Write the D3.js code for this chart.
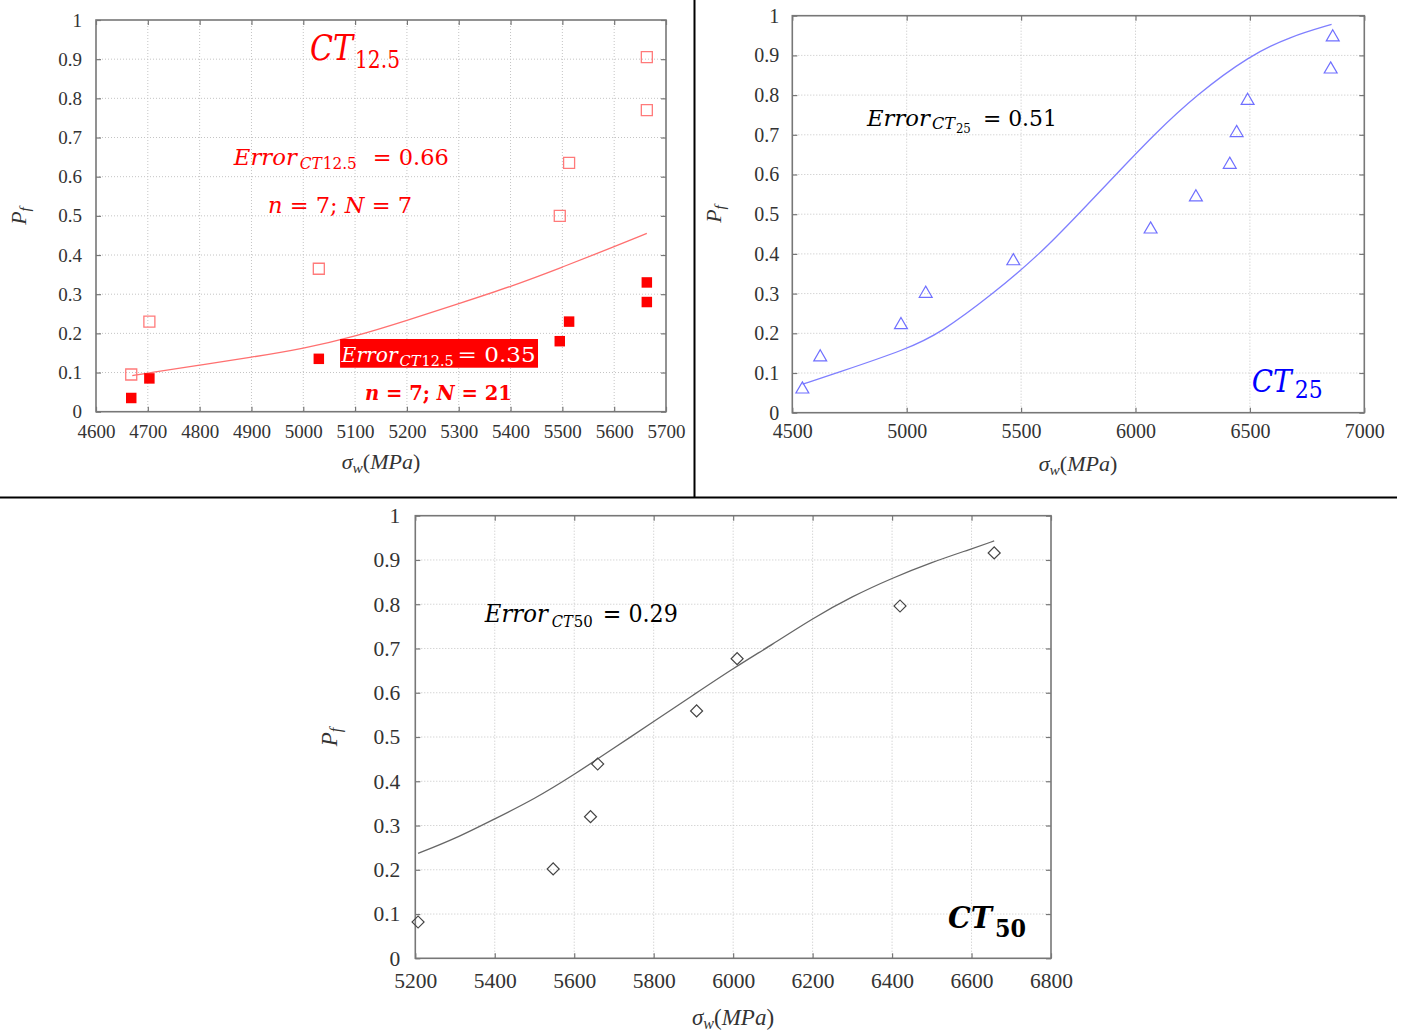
<!DOCTYPE html>
<html><head><meta charset="utf-8">
<script src="https://cdn.jsdelivr.net/npm/d3@7"></script>
<style>body{margin:0;background:#fff}svg{display:block}text{white-space:pre}</style>
</head><body>
<svg id="c" width="1401" height="1032"></svg>
<script>
// ---------- DATA ----------
const yTicks = [0,0.1,0.2,0.3,0.4,0.5,0.6,0.7,0.8,0.9,1];
const yTickLabels = ["0","0.1","0.2","0.3","0.4","0.5","0.6","0.7","0.8","0.9","1"];

// CT12.5
const ct12Ticks = [4600,4700,4800,4900,5000,5100,5200,5300,5400,5500,5600,5700];
const ct12X = [4668, 4703, 5030, 5495, 5513, 5663, 5663];
const ct12N7 = [0.095, 0.23, 0.365, 0.50, 0.635, 0.77, 0.905];
const ct12N21 = [0.035, 0.085, 0.135, 0.18, 0.23, 0.28, 0.33];
const ct12FitX = [4670, 4700, 4800, 4900, 5000, 5100, 5200, 5300, 5400, 5500, 5600, 5663];
const ct12FitY = [0.092, 0.099, 0.119, 0.139, 0.161, 0.192, 0.233, 0.276, 0.319, 0.369, 0.421, 0.455];

// CT25
const ct25Ticks = [4500,5000,5500,6000,6500,7000];
const ct25X = [4544, 4622, 4975, 5083, 5466, 6066, 6264, 6412, 6442, 6490, 6853, 6862];
const ct25Y = [0.059, 0.14, 0.221, 0.30, 0.382, 0.462, 0.543, 0.625, 0.705, 0.786, 0.865, 0.946];
const ct25FitX = [4545, 4694, 5000, 5146, 5379, 5583, 5750, 5915, 6080, 6265, 6500, 6675, 6857];
const ct25FitY = [0.072, 0.10, 0.16, 0.20, 0.30, 0.40, 0.50, 0.60, 0.70, 0.80, 0.90, 0.947, 0.978];

// CT50
const ct50Ticks = [5200,5400,5600,5800,6000,6200,6400,6600,6800];
const ct50X = [5207, 5547, 5641, 5659, 5908, 6010, 6420, 6657];
const ct50Y = [0.082, 0.202, 0.32, 0.439, 0.559, 0.677, 0.796, 0.916];
const ct50FitX = [5207, 5300, 5400, 5500, 5600, 5700, 5800, 5900, 6000, 6100, 6200, 6300, 6400, 6500, 6600, 6657];
const ct50FitY = [0.237, 0.27, 0.315, 0.36, 0.415, 0.475, 0.535, 0.595, 0.655, 0.71, 0.768, 0.818, 0.859, 0.895, 0.925, 0.943];

// ---------- DRAW ----------
const svg = d3.select("#c");
const MATH = "DejaVu Serif";
const TICKF = "Liberation Serif";

svg.append("line").attr("x1",694.5).attr("x2",694.5).attr("y1",0).attr("y2",497).attr("stroke","#000").attr("stroke-width",2);
svg.append("line").attr("x1",0).attr("x2",1397).attr("y1",497.5).attr("y2",497.5).attr("stroke","#000").attr("stroke-width",2);

function panel(c) {
  const x = d3.scaleLinear().domain(c.xd).range([c.L, c.R]);
  const y = d3.scaleLinear().domain([0,1]).range([c.B, c.T]);
  const g = svg.append("g");
  g.append("g").selectAll("line").data(c.xt.slice(1,-1)).join("line")
    .attr("x1",d=>x(d)).attr("x2",d=>x(d)).attr("y1",c.T).attr("y2",c.B)
    .attr("stroke","#c4c4c4").attr("stroke-width",1).attr("stroke-dasharray","1,2");
  g.append("g").selectAll("line").data(yTicks.slice(1,-1)).join("line")
    .attr("y1",d=>y(d)).attr("y2",d=>y(d)).attr("x1",c.L).attr("x2",c.R)
    .attr("stroke","#c4c4c4").attr("stroke-width",1).attr("stroke-dasharray","1,2");
  const style = (a) => {
    a.select(".domain").remove();
    a.selectAll(".tick line").attr("stroke","#777").attr("stroke-width",1.2);
    a.selectAll("text").attr("font-family",TICKF).attr("font-size",c.fs).attr("fill","#333");
  };
  g.append("g").attr("transform",`translate(0,${c.B})`)
    .call(d3.axisBottom(x).tickValues(c.xt).tickFormat(d3.format("d")).tickSize(-5).tickPadding(c.xpad)).call(style);
  g.append("g").attr("transform",`translate(0,${c.T})`)
    .call(d3.axisTop(x).tickValues(c.xt).tickFormat("").tickSize(-5)).call(style);
  g.append("g").attr("transform",`translate(${c.L},0)`)
    .call(d3.axisLeft(y).tickValues(yTicks).tickFormat((d,i)=>yTickLabels[i]).tickSize(-5).tickPadding(c.ypad)).call(style);
  g.append("g").attr("transform",`translate(${c.R},0)`)
    .call(d3.axisRight(y).tickValues(yTicks).tickFormat("").tickSize(-5)).call(style);
  g.append("rect").attr("x",c.L).attr("y",c.T).attr("width",c.R-c.L).attr("height",c.B-c.T)
    .attr("fill","none").attr("stroke","#777").attr("stroke-width",1.6);
  const xt = g.append("text").attr("x",c.xlx).attr("y",c.xly).attr("text-anchor","middle")
    .attr("font-family",TICKF).attr("font-size",c.lfs).attr("fill","#333");
  xt.append("tspan").attr("font-style","italic").text("σ");
  xt.append("tspan").attr("font-style","italic").attr("font-size",c.lfs*0.7).attr("dy",4).text("w");
  xt.append("tspan").attr("dy",-4).text("(");
  xt.append("tspan").attr("font-style","italic").text("MPa");
  xt.append("tspan").text(")");
  const yt = g.append("text").attr("transform",`translate(${c.ylx},${c.yly}) rotate(-90)`).attr("text-anchor","middle")
    .attr("font-family",TICKF).attr("font-size",c.lfs).attr("fill","#333");
  yt.append("tspan").attr("font-style","italic").text("P");
  yt.append("tspan").attr("font-style","italic").attr("font-size",c.lfs*0.7).attr("dy",4).text("f");
  return {x, y, g};
}

function mathText(g, px, py, parts, fill, weight) {
  parts.forEach(p => {
    const t = g.append("text").attr("x",px + p.dx).attr("y",py + (p.dy||0))
      .attr("font-family",MATH).attr("font-size",p.s).attr("fill",fill)
      .attr("font-weight",weight||"normal").attr("font-style",p.i?"italic":"normal")
      .attr("textLength",p.w).attr("lengthAdjust","spacingAndGlyphs");
    if (p.parts) p.parts.forEach(q => t.append("tspan").attr("font-style",q.i?"italic":"normal").text(q.t));
    else t.text(p.t);
  });
}

const line = (x,y) => d3.line().x(d=>x(d[0])).y(d=>y(d[1])).curve(d3.curveBasis);

// ---- Panel 1: CT12.5 ----
{
  const {x,y,g} = panel({L:96,T:20,R:666,B:411.7,xd:[4600,5700],xt:ct12Ticks,fs:19,xpad:13,ypad:14,
    lfs:22,xlx:381,xly:469,ylx:26,yly:216});
  g.append("path").datum(d3.zip(ct12FitX,ct12FitY)).attr("d",line(x,y))
    .attr("fill","none").attr("stroke","#ff7070").attr("stroke-width",1.3);
  const sq = d3.symbol().type(d3.symbolSquare);
  g.selectAll(".o").data(d3.zip(ct12X,ct12N7)).join("path")
    .attr("transform",d=>`translate(${x(d[0])},${y(d[1])})`).attr("d",sq.size(121)())
    .attr("fill","none").attr("stroke","#ff7a7a").attr("stroke-width",1.3);
  g.selectAll(".f").data(d3.zip(ct12X,ct12N21)).join("path")
    .attr("transform",d=>`translate(${x(d[0])},${y(d[1])})`).attr("d",sq.size(110)())
    .attr("fill","#ff0000");
  mathText(g, x(5013), y(0.898), [
    {t:"CT",s:35,i:true,dx:0,w:43},
    {t:"12.5",s:24,dx:45,w:45,dy:8}], "#ff0000");
  mathText(g, x(4866), y(0.630), [
    {t:"Error",s:23,i:true,dx:0,w:63},
    {t:"CT",s:16,i:true,dx:66,w:22,dy:4},
    {t:"12.5",s:16,dx:89,w:34,dy:4},
    {t:"= 0.66",s:23,dx:139,w:76}], "#ff0000");
  mathText(g, x(4932), y(0.507), [
    {parts:[{t:"n",i:true},{t:" = 7; "},{t:"N",i:true},{t:" = 7"}],s:22,dx:0,w:144}], "#ff0000");
  g.append("rect").attr("x",x(5071)).attr("y",y(0.1856)).attr("width",x(5453)-x(5071)).attr("height",y(0.1123)-y(0.1856)).attr("fill","#ff0000");
  mathText(g, x(5074), y(0.1276), [
    {t:"Error",s:21,i:true,dx:0,w:56},
    {t:"CT",s:14,i:true,dx:58,w:21,dy:4},
    {t:"12.5",s:14,dx:80,w:32,dy:4},
    {t:"= 0.35",s:21,dx:116,w:78}], "#ffffff");
  mathText(g, x(5119), y(0.030), [
    {parts:[{t:"n",i:true},{t:" = 7; "},{t:"N",i:true},{t:" = 21"}],s:20,dx:0,w:147}], "#ff0000", "bold");
}

// ---- Panel 2: CT25 ----
{
  const {x,y,g} = panel({L:792.3,T:15.7,R:1364.3,B:412.7,xd:[4500,7000],xt:ct25Ticks,fs:20,xpad:11.5,ypad:13,
    lfs:22,xlx:1078,xly:471,ylx:721,yly:214});
  g.append("path").datum(d3.zip(ct25FitX,ct25FitY)).attr("d",line(x,y))
    .attr("fill","none").attr("stroke","#7f7fff").attr("stroke-width",1.3);
  const tri = d3.symbol().type(d3.symbolTriangle).size(72);
  g.selectAll(".t").data(d3.zip(ct25X,ct25Y)).join("path")
    .attr("transform",d=>`translate(${x(d[0])},${y(d[1])})`).attr("d",tri())
    .attr("fill","none").attr("stroke","#6f6fff").attr("stroke-width",1.2);
  mathText(g, x(4826), y(0.722), [
    {t:"Error",s:23,i:true,dx:0,w:63},
    {t:"CT",s:16,i:true,dx:65,w:23,dy:3},
    {t:"25",s:12,dx:89,w:15,dy:7},
    {t:"= 0.51",s:23,dx:116,w:74}], "#000");
  mathText(g, x(6508), y(0.052), [
    {t:"CT",s:31,i:true,dx:0,w:40},
    {t:"25",s:24,dx:43,w:28,dy:6}], "#0000ff");
}

// ---- Panel 3: CT50 ----
{
  const {x,y,g} = panel({L:415.3,T:515.7,R:1051,B:958.3,xd:[5200,6800],xt:ct50Ticks,fs:21.5,xpad:14.5,ypad:15,
    lfs:23,xlx:733,xly:1025,ylx:337,yly:737});
  g.append("path").datum(d3.zip(ct50FitX,ct50FitY)).attr("d",line(x,y))
    .attr("fill","none").attr("stroke","#666").attr("stroke-width",1.3);
  const dia = d3.symbol().type(d3.symbolSquare).size(72);
  g.selectAll(".d").data(d3.zip(ct50X,ct50Y)).join("path")
    .attr("transform",d=>`translate(${x(d[0])},${y(d[1])}) rotate(45)`).attr("d",dia())
    .attr("fill","none").attr("stroke","#444").attr("stroke-width",1.2);
  mathText(g, x(5375), y(0.760), [
    {t:"Error",s:24,i:true,dx:0,w:63},
    {t:"CT",s:17,i:true,dx:67,w:21,dy:5},
    {t:"50",s:17,dx:89,w:19,dy:5},
    {t:"= 0.29",s:24,dx:118,w:75}], "#000");
  mathText(g, x(6541), y(0.068), [
    {t:"CT",s:30,i:true,dx:0,w:44},
    {t:"50",s:25,dx:47,w:31,dy:9}], "#000", "bold");
}
</script>
</body></html>
